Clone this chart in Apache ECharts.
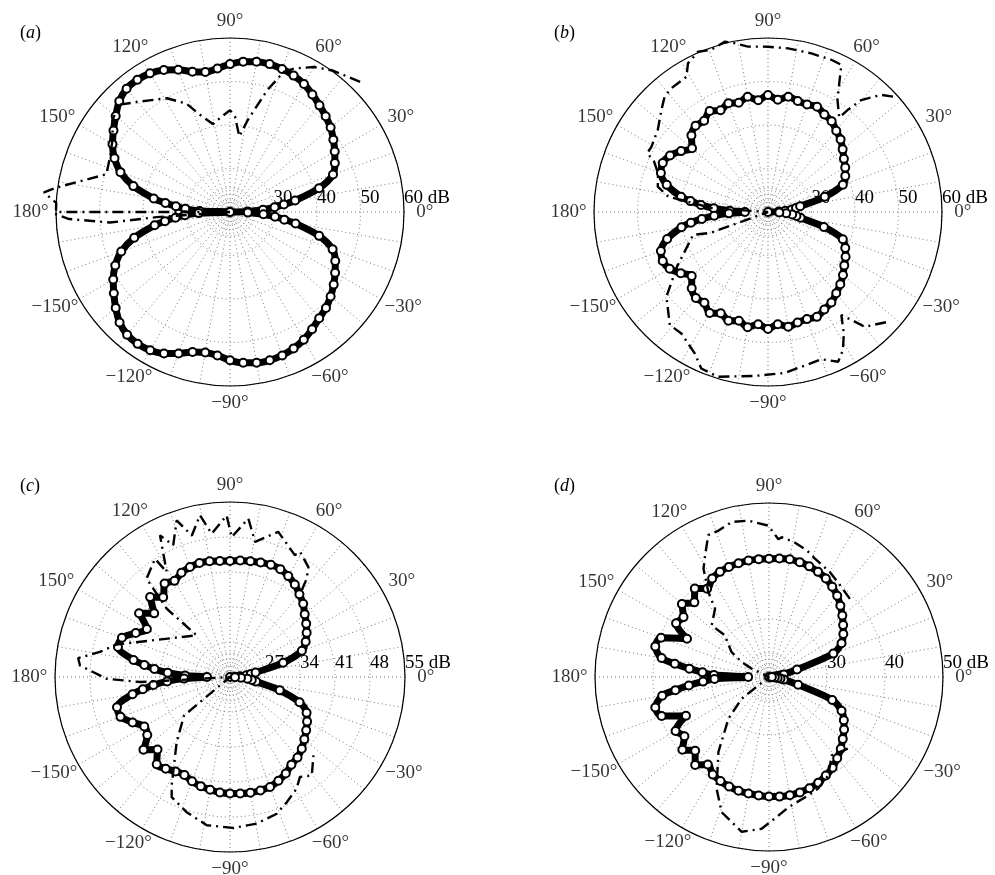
<!DOCTYPE html>
<html>
<head>
<meta charset="utf-8">
<script src="https://cdn.jsdelivr.net/npm/echarts@6/dist/echarts.min.js"></script>
<style>
  html, body { margin: 0; padding: 0; background: #fff; }
  #chart { width: 995px; height: 875px; }
</style>
</head>
<body>
<div id="chart"></div>
<script>
// Sampling angles (degrees) shared by the four circle-marker patterns
const MARK_ANGLES = [0, 2, 4, 6, 8, 10, 15, 20, 25, 30, 35, 40, 45, 50, 55, 60, 65, 70, 75, 80, 85, 90,
  95, 100, 105, 110, 115, 120, 125, 130, 135, 140, 145, 150, 155, 160, 165, 170, 172, 174, 176, 178, 180,
  -178, -176, -174, -172, -170, -165, -160, -155, -150, -145, -140, -135, -130, -125, -120, -115, -110,
  -105, -100, -95, -90, -85, -80, -75, -70, -65, -60, -55, -50, -45, -40, -35, -30, -25, -20, -15, -10,
  -8, -6, -4, -2];

// Circle-marker levels (dB), one entry per angle above
const A_MARK = [20, 24, 27.6, 30.3, 32.5, 35.2, 41.2, 45.2, 46.6, 47.8, 49, 50.2, 51.1, 52, 53, 54, 54.6, 55,
  55.2, 55.1, 54.7, 54, 53.1, 52.7, 53.4, 54.8, 56, 56.8, 57.1, 57, 56, 54.3, 52.7, 51.2, 49.3, 46.8, 43, 37.8,
  35, 32.5, 30.3, 27, 20,
  27.2, 30.4, 32.6, 35.1, 37.6, 42.8, 46.6, 49.1, 51, 52.6, 54.3, 55.9, 56.8, 57, 56.7, 55.9, 54.6, 53.3, 52.8,
  53.1, 54.1, 54.8, 55.2, 55.3, 55.1, 54.6, 53.9, 52.9, 51.9, 51.2, 50.2, 49.1, 47.9, 46.7, 45.1, 41.2, 35.3,
  32.6, 30.4, 27.7, 24.1];

const B_MARK = [20, 22.5, 24, 25.5, 26.5, 27.5, 33.5, 38.3, 39.6, 40.5, 41.3, 42.4, 43.6, 44.4, 45.5, 45.9, 46.7,
  46.3, 46.4, 46.9, 45.9, 46.9, 45.8, 46.9, 46.0, 46.6, 45.8, 46.8, 45.6, 45.9, 44.9, 42.8, 44.4, 46.0, 46.7,
  46.2, 44.1, 40.3, 38.0, 35.5, 32.5, 28.8, 25.3,
  29, 32.4, 35.3, 37.9, 40.2, 44.0, 46.2, 46.7, 46.1, 44.5, 42.9, 44.8, 45.8, 45.5, 46.8, 45.7, 46.6, 45.9, 46.9,
  45.9, 46.9, 45.9, 46.8, 46.3, 46.2, 46.6, 45.9, 45.4, 44.4, 43.5, 42.5, 41.4, 40.6, 39.6, 38.3, 33.3, 27.6,
  26.6, 25.6, 24.2, 22.6];

const C_MARK = [20, 21, 22, 23.3, 24.2, 25.2, 31, 35.3, 36.7, 37.7, 38.6, 39.5, 40.7, 41.6, 42.6, 43.3, 43.8, 43.9,
  43.7, 43.5, 43.4, 43.2, 43.3, 43.5, 43.6, 43.4, 43.0, 42.2, 42.8, 40.8, 42.6, 39.8, 42.2, 39.2, 40.8, 43.0, 43.2,
  39.6, 37.3, 35.2, 32.5, 29, 24.6,
  29.2, 32.6, 35.4, 37.6, 39.8, 43.4, 43.3, 41.5, 39.8, 40.2, 42.6, 40.5, 42.8, 42.4, 41.8, 41.6, 42.2, 42.6, 42.9,
  43.2, 43.3, 43.4, 43.5, 43.5, 43.4, 42.9, 42.3, 41.4, 41.0, 40.3, 39.4, 38.6, 37.8, 36.9, 34.8, 30.3, 25.3,
  24.4, 23.5, 22.2, 21];

const D_MARK = [20, 20.5, 21, 21.5, 22, 22.6, 25, 31.8, 33.8, 34.8, 35.6, 36.5, 37.4, 38.3, 39.0, 39.6, 40.0, 40.3,
  40.5, 40.6, 40.5, 40.4, 40.4, 40.4, 40.3, 40.2, 40.0, 39.6, 38.6, 39.9, 38.2, 39.6, 38.0, 38.5, 35.6, 39.8, 40.3,
  38.8, 36.4, 33.8, 31.5, 29.5, 23.6,
  29.4, 31.4, 33.9, 36.3, 38.7, 40.3, 39.7, 35.8, 38.6, 37.8, 39.5, 38.0, 39.8, 38.4, 39.4, 39.8, 40.1, 40.3, 40.4,
  40.5, 40.6, 40.7, 40.7, 40.6, 40.4, 40.1, 39.6, 39.1, 38.3, 37.5, 36.6, 35.8, 34.9, 33.8, 31.6, 25.2, 22.6,
  22, 21.5, 21, 20.5];

// Dash-dot traces: angles (degrees) in drawing order, with their levels (dB)
const A_DASH_ANG = [45, 54, 60, 66, 69, 73, 79, 83, 87, 90, 95, 101, 107, 112, 119, 129, 136, 142, 148, 155, 163,
  172, 174, 177, 180, 180, -176, -175, -177.5, -179.5];
const A_DASH_VAL = [62.3, 60.2, 58.5, 56.1, 54.5, 49.3, 41.6, 37.5, 42, 43.4, 42, 40.6, 43.3, 46.9, 49.9, 52.7,
  55.5, 54.3, 51.8, 50.4, 49.7, 60.3, 63, 60, 60, 20, 36.9, 47.7, 57, 60.5];

const B_DASH_ANG = [42.7, 45.9, 50.2, 52, 53, 58.2, 61.5, 63.5, 67.4, 74.7, 83, 90, 96.9, 102.2, 104.3, 109.3,
  113.6, 118.3, 121.1, 128, 131.9, 136.3, 143.3, 150.8, 154, 156, 160.6, 167, 171.3, 172.1, 176, 180,
  -160, -163, -149, -140.2, -131, -125.5, -117.4, -113.1, -106.9, -94.6, -84.1, -77.8, -70.1, -64.9, -61.5,
  -58, -54.6, -52.3, -49.9, -42];
const B_DASH_VAL = [59.1, 57.5, 53.5, 49.8, 47.2, 50.3, 54.5, 57.8, 57.9, 57.8, 57.9, 58, 58.3, 59.9, 60.4, 59.5,
  60.2, 58.8, 56.3, 56.1, 55.6, 53.9, 51.6, 50.7, 50.9, 48.7, 46.8, 46, 43.2, 40.1, 33, 20,
  34, 38, 44.4, 50.4, 54.4, 54.3, 56.6, 59.1, 59.6, 57.8, 57.2, 56.4, 56, 58, 56.1,
  52.9, 49.1, 51.3, 54.5, 57.6];

const C_DASH_ANG = [50.4, 52, 54.5, 60.8, 62, 71.6, 79.5, 83.4, 89.3, 91.2, 97.3, 100.5, 105.1, 108.8, 113.3,
  116.3, 121.1, 122.4, 130.3, 132.8, 128.7, 164, 169.1, 172.9, 175.6, -179.2, -176.8, -176.6, 180,
  -140, -129.4, -118.3, -115.9, -107.8, -98.9, -88.7, -79.7, -71.1, -65.6, -59.2, -55, -50.3, -43.2];
const C_DASH_VAL = [42.5, 44.9, 47, 48.7, 47.6, 50.6, 47.5, 51.9, 48, 52.3, 48.9, 52.9, 49.3, 53.1, 48.7,
  51.6, 44.5, 48, 45.8, 38.6, 30.7, 43.6, 46.5, 50.6, 50.1, 44.7, 38, 31.3, 20,
  32, 36.8, 44.6, 46.7, 48.4, 50, 50.2, 49.8, 48.9, 47.5, 46, 44.4, 45.6, 42.9];

const D_DASH_ANG = [44, 52.2, 59.8, 68.8, 73.4, 79.8, 84.8, 86.1, 90.3, 97.5, 103.5, 109, 113.2, 117.7, 121.2,
  125.5, 128.3, 138, 136.6, 146.2, 151.2, 154.3, 180,
  -141.6, -134.3, -124, -115.1, -109.3, -100, -92.8, -87.6, -81.5, -71.6, -66.2, -58.9, -51.3, -42.1];
const D_DASH_VAL = [39.4, 40, 40.9, 41.9, 42.8, 43.7, 44.2, 43.8, 46.1, 47.2, 47.5, 46.7, 46.6, 43.7, 41.8,
  38, 35, 33.3, 30.5, 27.8, 25.4, 23.3, 20,
  26, 30, 35.6, 41.3, 44.7, 47.1, 46.2, 44.4, 42.7, 41.5, 41, 39.8, 37.3, 38.4];

// Angle tick labels (degrees)
const ANGLE_TICKS = [0, 30, 60, 90, 120, 150, 180, -150, -120, -90, -60, -30];

// Panel letters and radial scales (dB)
const PANEL_LETTERS = ['a', 'b', 'c', 'd'];
const R_MIN = [20, 20, 20, 20];
const R_MAX = [60, 60, 55, 50];
const R_STEP = [10, 10, 7, 10];

const MARKS = [A_MARK, B_MARK, C_MARK, D_MARK];
const DASH_ANGS = [A_DASH_ANG, B_DASH_ANG, C_DASH_ANG, D_DASH_ANG];
const DASH_VALS = [A_DASH_VAL, B_DASH_VAL, C_DASH_VAL, D_DASH_VAL];

// Layout of the four polar panels
const LAYOUT = [
  { center: [230, 212], radius: 174, title: [15, 19] },
  { center: [768, 212], radius: 174, title: [549, 19] },
  { center: [230, 677], radius: 175, title: [15, 472] },
  { center: [769, 677], radius: 174, title: [549, 472] }
];

const FONT = 'Liberation Serif, Times New Roman, serif';
const FONT_SIZE = 19;
const GRID = { color: '#777', width: 1, type: [1, 3] };
const EXTRA = 0.3;          // headroom of the plotting polar beyond the rim (fraction of span)
const LABEL_AT = 1.095;     // angle labels sit at this fraction of the rim radius

const wrap = a => ((a % 360) + 360) % 360;
const fmtAngle = a => (a < 0 ? '\u2212' + (-a) : String(a)) + '\u00b0';
// rough text width for horizontal nudging of the rim labels
const textWidth = s => [...s].reduce((w, ch) => w + (ch === '\u00b0' ? 7.6 : ch === '\u2212' ? 10.7 : 9.5), 0);

const polar = [], angleAxis = [], radiusAxis = [], series = [], title = [];
const hiddenAngle = idx => ({
  polarIndex: idx, type: 'value', min: 0, max: 360, startAngle: 0, clockwise: false,
  axisLine: { show: false }, axisTick: { show: false }, axisLabel: { show: false }, splitLine: { show: false }
});

LAYOUT.forEach((L, i) => {
  const span = R_MAX[i] - R_MIN[i];

  // grid polar: rim, spokes, rings, ring labels
  const g = polar.length;
  polar.push({ center: L.center, radius: L.radius });
  angleAxis.push({
    polarIndex: g, type: 'value', min: 0, max: 360, interval: 30, startAngle: 0, clockwise: false,
    axisLine: { show: true, lineStyle: { color: '#000', width: 1.2 } },
    axisTick: { show: false },
    axisLabel: { show: false },
    splitLine: { show: true, lineStyle: GRID },
    minorTick: { show: false, splitNumber: 3 },
    minorSplitLine: { show: true, lineStyle: GRID }
  });
  radiusAxis.push({
    polarIndex: g, type: 'value', min: R_MIN[i], max: R_MAX[i], interval: R_STEP[i],
    axisLine: { show: false }, axisTick: { show: false },
    splitLine: { show: true, lineStyle: GRID },
    axisLabel: {
      show: true, showMinLabel: false, showMaxLabel: true, margin: 4, align: 'left',
      color: '#000', fontFamily: FONT, fontSize: FONT_SIZE,
      formatter: v => (v === R_MAX[i] ? v + ' dB' : String(v))
    }
  });

  // small dotted rings around the pole
  const s = polar.length;
  polar.push({ center: L.center, radius: 24 });
  angleAxis.push(hiddenAngle(s));
  radiusAxis.push({
    polarIndex: s, type: 'value', min: 0, max: 4, interval: 1,
    axisLine: { show: false }, axisTick: { show: false }, axisLabel: { show: false },
    splitLine: { show: true, lineStyle: GRID }
  });

  // plotting polar: same dB-per-pixel scale, with headroom so traces may pass the rim
  const d = polar.length;
  polar.push({ center: L.center, radius: L.radius * (1 + EXTRA) });
  angleAxis.push(hiddenAngle(d));
  radiusAxis.push({
    polarIndex: d, type: 'value', min: R_MIN[i], max: R_MAX[i] + EXTRA * span,
    axisLine: { show: false }, axisTick: { show: false }, axisLabel: { show: false }, splitLine: { show: false }
  });

  // circle-marker pattern
  series.push({
    type: 'line', coordinateSystem: 'polar', polarIndex: d, z: 3,
    data: MARK_ANGLES.map((a, k) => [MARKS[i][k], wrap(a)]),
    smooth: 0.3, symbol: 'emptyCircle', symbolSize: 8, showSymbol: true, showAllSymbol: true,
    itemStyle: { color: '#000', borderWidth: 2.6 },
    lineStyle: { color: '#000', width: 7 }
  });
  // dash-dot trace
  series.push({
    type: 'line', coordinateSystem: 'polar', polarIndex: d, z: 4,
    data: DASH_ANGS[i].map((a, k) => [DASH_VALS[i][k], wrap(a)]),
    symbol: 'none',
    lineStyle: { color: '#000', width: 2.4, type: [11, 5, 2, 5] }
  });
  // angle labels, centred just outside the rim
  const labelR = R_MIN[i] + LABEL_AT * span;
  series.push({
    type: 'scatter', coordinateSystem: 'polar', polarIndex: d, silent: true, z: 5,
    symbolSize: 0,
    data: ANGLE_TICKS.map(a => {
      const txt = fmtAngle(a);
      const dx = Math.cos(a * Math.PI / 180) * textWidth(txt) * 0.25;
      return { value: [labelR, wrap(a)], name: txt, label: { offset: [dx, 0] } };
    }),
    label: { show: true, position: 'inside', formatter: '{b}', color: '#000', fontFamily: FONT, fontSize: FONT_SIZE }
  });

  title.push({
    text: '{p|(}{i|' + PANEL_LETTERS[i] + '}{p|)}',
    left: L.title[0], top: L.title[1],
    textStyle: {
      fontWeight: 'normal',
      rich: {
        p: { fontFamily: FONT, fontSize: 18, fontWeight: 'normal', color: '#000' },
        i: { fontFamily: FONT, fontSize: 18, fontWeight: 'normal', fontStyle: 'italic', color: '#000' }
      }
    }
  });
});

const chart = echarts.init(document.getElementById('chart'), null, { renderer: 'canvas' });
chart.setOption({
  animation: false,
  backgroundColor: '#fff',
  title, polar, angleAxis, radiusAxis, series
});
</script>
</body>
</html>
